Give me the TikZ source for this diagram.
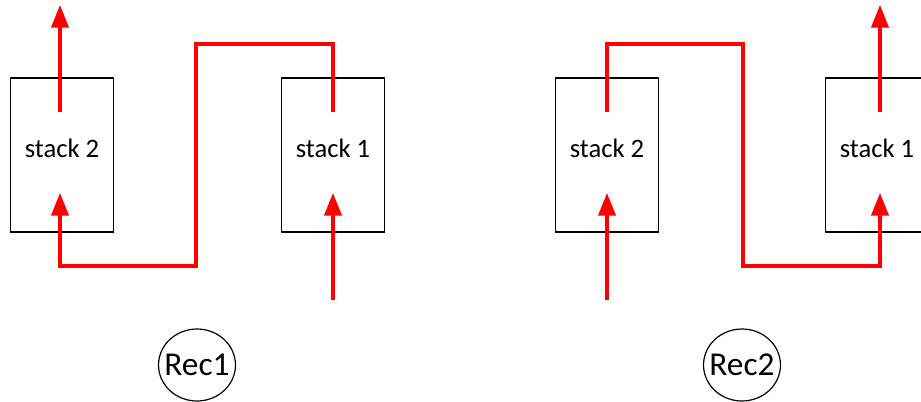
\documentclass[tikz,border=0pt]{standalone}
\usepackage{fontspec}
\setmainfont{Carlito}
\usetikzlibrary{arrows.meta,shapes.geometric}
\begin{document}
\begin{tikzpicture}[x=0.75pt, y=-0.75pt, >={Triangle[length=17pt,width=13pt]},
    stackbox/.style={draw, line width=0.9pt, minimum width=77pt, minimum height=115.5pt,
        text height=0.7em, text depth=0.4em, font=\fontsize{20}{24}\selectfont},
    flow/.style={red, line width=2.4pt},
    recmark/.style={draw, ellipse, line width=0.9pt, inner xsep=-4pt, inner ysep=0pt,
        minimum width=57pt, minimum height=54pt, font=\fontsize{25}{30}\selectfont}]
    \useasboundingbox (0,0) rectangle (921,401);
    \clip (0,0) rectangle (921,401);

    % Rec1
    \node[stackbox] (L2) at (62,155) {stack 2};
    \node[stackbox] (L1) at (333,155) {stack 1};
    \coordinate (L2out) at (60,5);
    \coordinate (L2up) at (60,112);
    \coordinate (L2low) at (60,193);
    \coordinate (L1up) at (333,112);
    \coordinate (L1low) at (333,193);
    \coordinate (L1in) at (333,300);

    \draw[flow,->] (L2up) -- (L2out);
    \draw[flow,->] (L1in) -- (L1low);
    \draw[flow,->] (L1up) |- (196,44) -- (196,266) -| (L2low);

    \node[recmark] (R1) at (197,365) {Rec1};

    % Rec2
    \node[stackbox] (R2) at (607,155) {stack 2};
    \node[stackbox] (Q1) at (877,155) {stack 1};
    \coordinate (Q1out) at (880,5);
    \coordinate (Q1up) at (880,112);
    \coordinate (Q1low) at (880,193);
    \coordinate (R2up) at (607,112);
    \coordinate (R2low) at (607,193);
    \coordinate (R2in) at (607,300);

    \draw[flow,->] (Q1up) -- (Q1out);
    \draw[flow,->] (R2in) -- (R2low);
    \draw[flow,->] (R2up) |- (743,44) -- (743,266) -| (Q1low);

    \node[recmark] (R2c) at (742,365) {Rec2};
\end{tikzpicture}
\end{document}
